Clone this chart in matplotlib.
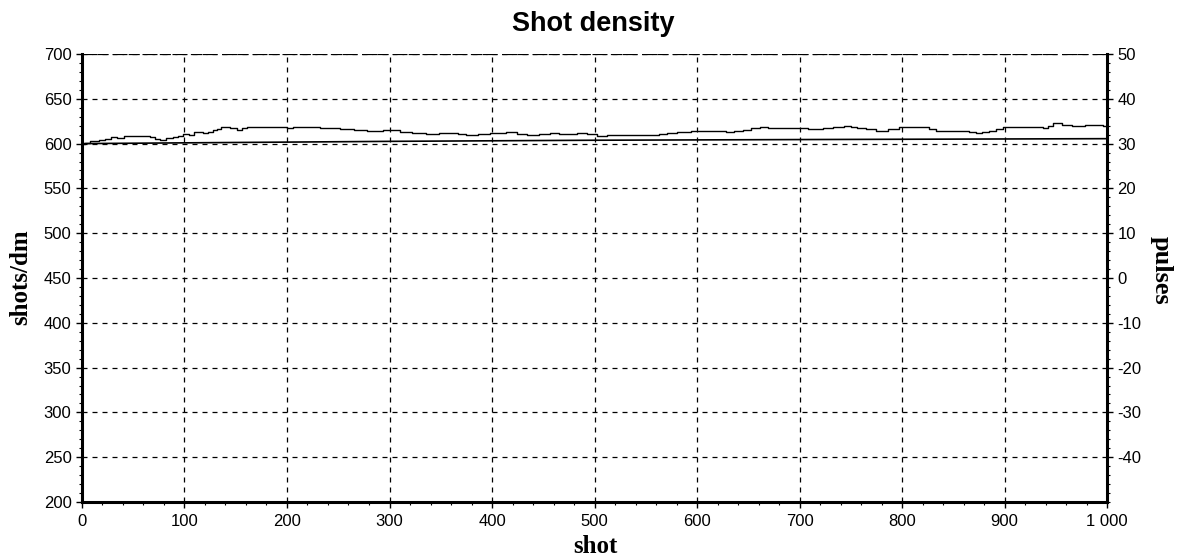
import matplotlib
matplotlib.use("Agg")
import matplotlib.pyplot as plt
from matplotlib.ticker import MultipleLocator

# --- data ---
density_shot = [0, 3, 8, 12, 17, 22, 28, 34, 41, 49, 57, 62, 66, 71, 76, 82, 89, 94, 99,
                104, 109, 118, 123, 128, 132, 136, 140, 144, 151, 156, 161, 170, 180, 190,
                200, 206, 213, 222, 232, 238, 245, 252, 258, 265, 271, 278, 284, 294, 304,
                310, 322, 336, 348, 359, 367, 375, 386, 398, 406, 414, 424, 434, 446, 457,
                465, 473, 483, 493, 502, 512, 523, 540, 555, 563, 571, 580, 588, 594, 601,
                610, 620, 628, 636, 645, 653, 661, 669, 680, 694, 708, 723, 733, 743, 750,
                756, 765, 775, 786, 797, 808, 820, 826, 833, 846, 859, 865, 872, 878, 885,
                892, 898, 908, 917, 927, 937, 942, 947, 956, 966, 978, 989, 996, 1000]
density_val = [600, 601, 603, 602.5, 604.5, 605.5, 607, 606.5, 609, 608, 609, 608, 607,
               605.5, 604.5, 606, 607, 608.5, 611, 610, 612.7, 612, 613.5, 615.5, 616.5,
               619, 618, 617, 615.5, 617, 618, 618.5, 619, 618.3, 617.6, 618.5, 619, 618,
               617, 617.8, 617.6, 616.5, 616, 615.5, 615, 614.2, 614, 614.8, 615, 612.7,
               612, 611, 611.8, 611.5, 610.5, 610, 610.8, 611.5, 612.2, 612.7, 611, 610,
               611.2, 612, 611.2, 611, 611.6, 611, 608.4, 609.5, 610, 610, 610, 611, 612,
               612.5, 613.5, 614, 614.6, 614.2, 614, 613.4, 614, 615.5, 617.6, 619, 617,
               617, 617.5, 616.5, 617.6, 618.3, 620, 619, 617.6, 616, 614.6, 616.5, 618,
               618.3, 619, 616.5, 614.6, 614.6, 614.6, 613, 612, 613.5, 614.6, 616.5, 619,
               619, 619, 618, 617, 620, 623, 621, 620, 620.5, 621, 620, 620]

pulse_shot = [0, 300, 500, 700, 1000]
pulse_val = [30.0, 30.5, 30.75, 30.9, 31.1]

x_ticks = [0, 100, 200, 300, 400, 500, 600, 700, 800, 900, 1000]
x_labels = ["0", "100", "200", "300", "400", "500", "600", "700", "800", "900", "1 000"]
y_ticks = [200, 250, 300, 350, 400, 450, 500, 550, 600, 650, 700]
y2_ticks = [50, 40, 30, 20, 10, 0, -10, -20, -30, -40]
y2_labels = ["50", "40", "30", "20", "10", "0", "-10", "-20", "-30", "-40"]

plt.rcParams['font.family'] = ['Liberation Sans', 'DejaVu Sans']

fig = plt.figure(figsize=(11.93, 5.59), dpi=100)
ax = fig.add_axes([0.0687, 0.102, 0.8593, 0.8014])

ax.plot(density_shot, density_val, color='black', lw=1.0, drawstyle='steps-post')
ax.set_xlim(0, 1000)
ax.set_ylim(200, 700)
ax.set_xticks(x_ticks)
ax.set_xticklabels(x_labels)
ax.set_yticks(y_ticks)
ax.xaxis.set_minor_locator(MultipleLocator(20))
ax.yaxis.set_minor_locator(MultipleLocator(10))
ax.tick_params(axis='both', which='major', direction='out', length=4, width=1,
               labelsize=12, colors='black')
ax.tick_params(axis='x', which='major', pad=5)
ax.tick_params(axis='both', which='minor', direction='out', length=2, width=0.8)
ax.grid(True, which='major', color='black', linestyle=(0, (4, 4)), lw=0.9)

for s in ['left', 'bottom']:
    ax.spines[s].set_linewidth(2.2)
ax.spines['top'].set_visible(False)
ax.spines['right'].set_visible(False)
ax.axhline(700, color='black', lw=1.6, linestyle=(0, (5, 2)))

ax2 = ax.twinx()
ax2.plot(pulse_shot, pulse_val, color='black', lw=1.2)
ax2.set_ylim(-50, 50)
ax2.set_yticks(y2_ticks)
ax2.set_yticklabels(y2_labels)
ax2.yaxis.set_minor_locator(MultipleLocator(2))
ax2.tick_params(axis='y', which='major', direction='out', length=4, width=1, labelsize=12)
ax2.tick_params(axis='y', which='minor', direction='out', length=2, width=0.8)
ax2.spines['right'].set_linewidth(2.2)
for s in ['left', 'bottom', 'top']:
    ax2.spines[s].set_visible(False)

fig.text(0.497, 0.957, "Shot density", ha='center', va='center', fontsize=19.5,
         fontweight='bold', family=['Liberation Sans', 'DejaVu Sans'])
fig.text(0.017, 0.504, "shots/dm", ha='center', va='center', rotation=90, fontsize=18,
         fontweight='bold', family=['Liberation Serif', 'DejaVu Serif'])
fig.text(0.499, 0.023, "shot", ha='center', va='center', fontsize=18,
         fontweight='bold', family=['Liberation Serif', 'DejaVu Serif'])
fig.text(0.973, 0.517, "pulses", ha='center', va='center', rotation=-90, fontsize=19,
         fontweight='bold', family=['Liberation Serif', 'DejaVu Serif'])

fig.savefig("out.png", dpi=100, facecolor='white')
